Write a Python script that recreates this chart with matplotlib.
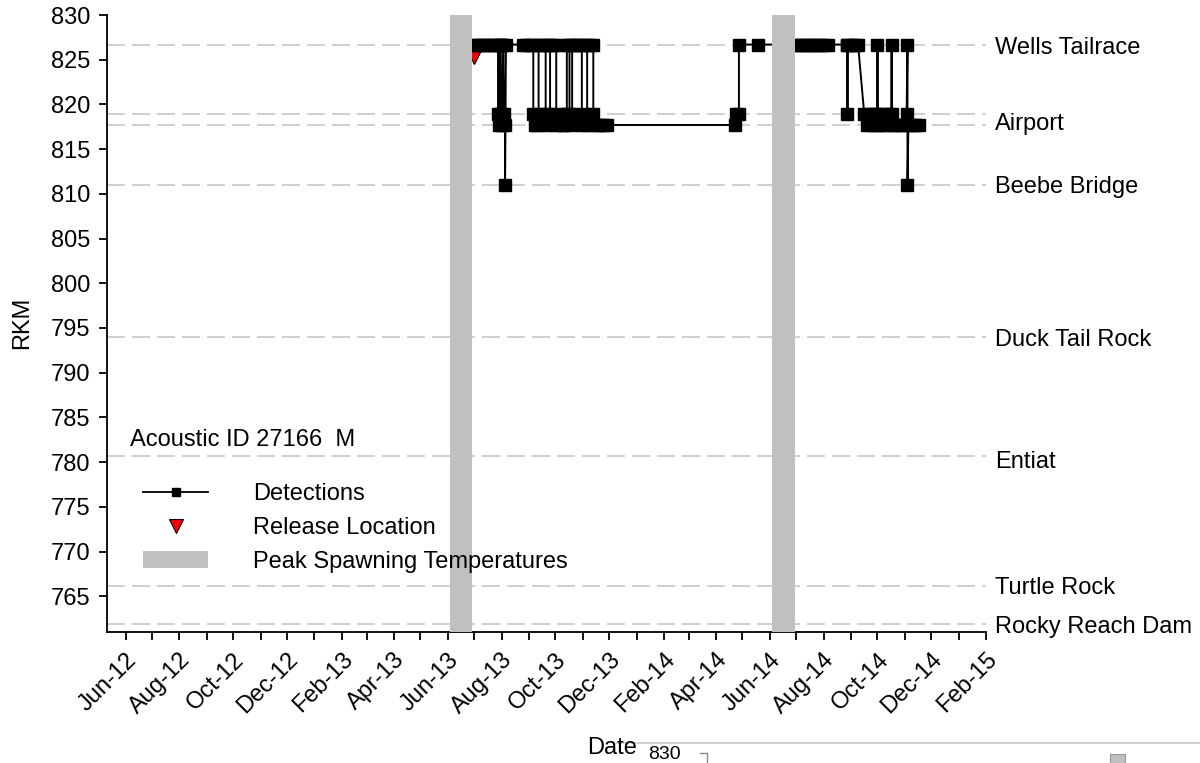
import numpy as np
import pandas as pd
import matplotlib
matplotlib.use('Agg')
import matplotlib.pyplot as plt
import matplotlib.dates as mdates
from matplotlib.lines import Line2D
from matplotlib.patches import Patch, Rectangle

plt.rcParams['font.family'] = ['Liberation Sans', 'DejaVu Sans']
plt.rcParams['lines.scale_dashes'] = False

# Receiver sites (RKM)
site_names = ['Wells Tailrace', 'Airport', 'Beebe Bridge', 'Duck Tail Rock',
              'Entiat', 'Turtle Rock', 'Rocky Reach Dam']
site_label_rkm = [826.3, 817.8, 810.8, 793.7, 780.0, 765.9, 761.6]
receiver_rkm = [826.7, 818.9, 817.7, 811.0, 794.0, 780.7, 766.1, 761.9]

# Detections of acoustic ID 27166
det_dates = [
    '2013-06-30', '2013-07-04', '2013-07-08', '2013-07-12', '2013-07-16', '2013-07-20',
    '2013-07-24', '2013-07-28', '2013-07-28', '2013-07-29', '2013-07-30', '2013-07-30',
    '2013-07-31', '2013-08-01', '2013-08-02', '2013-08-03', '2013-08-04', '2013-08-05',
    '2013-08-05', '2013-08-06', '2013-08-25', '2013-08-29', '2013-09-02', '2013-09-06',
    '2013-09-06', '2013-09-08', '2013-09-10', '2013-09-12', '2013-09-12', '2013-09-16',
    '2013-09-20', '2013-09-20', '2013-09-22', '2013-09-25', '2013-09-25', '2013-09-28',
    '2013-10-02', '2013-10-02', '2013-10-05', '2013-10-08', '2013-10-11', '2013-10-14',
    '2013-10-14', '2013-10-17', '2013-10-17', '2013-10-19', '2013-10-20', '2013-10-20',
    '2013-10-24', '2013-10-28', '2013-10-31', '2013-10-31', '2013-11-03', '2013-11-06',
    '2013-11-06', '2013-11-09', '2013-11-13', '2013-11-13', '2013-11-16', '2013-11-20',
    '2013-11-24', '2013-11-28',
    '2014-04-22', '2014-04-24', '2014-04-27', '2014-04-27', '2014-05-19', '2014-06-30',
    '2014-07-04', '2014-07-08', '2014-07-12', '2014-07-16', '2014-07-20', '2014-07-24',
    '2014-07-28', '2014-08-01', '2014-08-06', '2014-08-28', '2014-08-28', '2014-08-28',
    '2014-09-02', '2014-09-06', '2014-09-09', '2014-09-16', '2014-09-19', '2014-09-22',
    '2014-09-25', '2014-09-28', '2014-10-01', '2014-10-01', '2014-10-01', '2014-10-04',
    '2014-10-07', '2014-10-10', '2014-10-13', '2014-10-17', '2014-10-17', '2014-10-17',
    '2014-10-21', '2014-10-25', '2014-10-29', '2014-11-03', '2014-11-04', '2014-11-04',
    '2014-11-05', '2014-11-09', '2014-11-13', '2014-11-17',
]
det_rkm = [
    826.7, 826.7, 826.7, 826.7, 826.7, 826.7,
    826.7, 826.7, 818.9, 817.7, 818.9, 826.7,
    826.7, 818.9, 817.7, 826.7, 818.9, 817.7,
    811.0, 826.7, 826.7, 826.7, 826.7, 826.7,
    818.9, 817.7, 817.7, 818.9, 826.7, 826.7,
    826.7, 818.9, 817.7, 818.9, 826.7, 826.7,
    826.7, 817.7, 818.9, 817.7, 817.7, 818.9,
    826.7, 826.7, 818.9, 817.7, 818.9, 826.7,
    826.7, 826.7, 826.7, 817.7, 818.9, 817.7,
    826.7, 826.7, 826.7, 818.9, 817.7, 817.7,
    817.7, 817.7,
    817.7, 818.9, 818.9, 826.7, 826.7, 826.7,
    826.7, 826.7, 826.7, 826.7, 826.7, 826.7,
    826.7, 826.7, 826.7, 826.7, 818.9, 826.7,
    826.7, 826.7, 826.7, 818.9, 817.7, 818.9,
    817.7, 818.9, 817.7, 826.7, 818.9, 817.7,
    818.9, 817.7, 818.9, 817.7, 826.7, 818.9,
    817.7, 817.7, 817.7, 818.9, 826.7, 811.0,
    817.7, 817.7, 817.7, 817.7,
]

release_date = ['2013-07-01']
release_rkm = [825.7]

spawn_start = ['2013-06-04', '2014-06-04']
spawn_end = ['2013-06-29', '2014-06-29']

det_dates = pd.to_datetime(det_dates)
release_date = pd.to_datetime(release_date)

size_font = 16

fig = plt.figure(figsize=(12, 7.63), dpi=100)
ax = fig.add_axes([0.0892, 0.1717, 0.7325, 0.8086])

for r in receiver_rkm:
    ax.axhline(r, color='#cccccc', lw=1.3, dashes=(13, 5), zorder=1)

ax.plot(release_date, release_rkm, 'v', color='red', mec='black', mew=0.8, ms=16, zorder=2)
ax.plot(det_dates, det_rkm, '-s', color='black', lw=1.4, ms=9, zorder=3)

for s, e in zip(spawn_start, spawn_end):
    ax.axvspan(pd.Timestamp(s), pd.Timestamp(e), color='#c0c0c0', lw=0, zorder=5)

ax.set_xlim(pd.Timestamp('2012-05-11'), pd.Timestamp('2015-02-01'))
ax.set_ylim(761, 830)
ax.set_yticks(np.arange(765, 831, 5))
ax.xaxis.set_major_locator(mdates.MonthLocator(bymonth=[2, 4, 6, 8, 10, 12]))
ax.xaxis.set_minor_locator(mdates.MonthLocator())
ax.xaxis.set_major_formatter(mdates.DateFormatter('%b-%y'))
plt.setp(ax.get_xticklabels(), rotation=45, ha='right', rotation_mode='anchor')

ax.spines['top'].set_visible(False)
ax.spines['right'].set_visible(False)
ax.spines['left'].set_linewidth(1.3)
ax.spines['bottom'].set_linewidth(1.3)
ax.tick_params(axis='both', which='both', direction='out', length=6, width=1.3,
               labelsize=size_font + 1)
ax.tick_params(axis='y', pad=6)
ax.tick_params(axis='x', pad=6)

fig.text(22 / 1200, 1 - 323 / 763, 'RKM', fontsize=size_font + 1, rotation=90,
         ha='center', va='center')
fig.text(0.51, 1 - 748 / 763, 'Date', fontsize=size_font + 1, ha='center', va='center')

for name, r in zip(site_names, site_label_rkm):
    ax.text(1.0102, r, name, transform=ax.get_yaxis_transform(), fontsize=size_font + 1,
            ha='left', va='center', clip_on=False)

ax.text(0.026, 0.311, 'Acoustic ID 27166  M', transform=ax.transAxes,
        fontsize=size_font + 1, ha='left', va='center')

handles = [Line2D([], [], color='black', marker='s', ms=6, lw=1.3),
           Line2D([], [], color='red', marker='v', mec='black', mew=0.8, ms=10, lw=0),
           Patch(facecolor='#c0c0c0', edgecolor='none')]
labels = ['Detections', 'Release Location', 'Peak Spawning Temperatures']
ax.legend(handles, labels, loc='upper left', bbox_to_anchor=(0.041, 0.241),
          frameon=False, fontsize=size_font + 1, handlelength=2.75, handletextpad=1.9,
          labelspacing=0.5, borderpad=0, borderaxespad=0)

# piece of the next figure peeking in at the bottom edge
fig.add_artist(Line2D([617 / 1200, 1.0], [1 - 743 / 763, 1 - 743 / 763],
                      color='#c8c8c8', lw=1.2))
fig.text(648 / 1200, 0.0, '830', fontsize=14, ha='left', va='bottom')
fig.add_artist(Line2D([700 / 1200, 707 / 1200, 707 / 1200],
                      [1 - 753 / 763, 1 - 753 / 763, 0.0], color='#888888', lw=1.0))
fig.add_artist(Rectangle((1110 / 1200, 0.0), 15 / 1200, 9 / 763,
                         facecolor='#c0c0c0', edgecolor='#999999', lw=0.8))

fig.savefig('out.png', dpi=100)
